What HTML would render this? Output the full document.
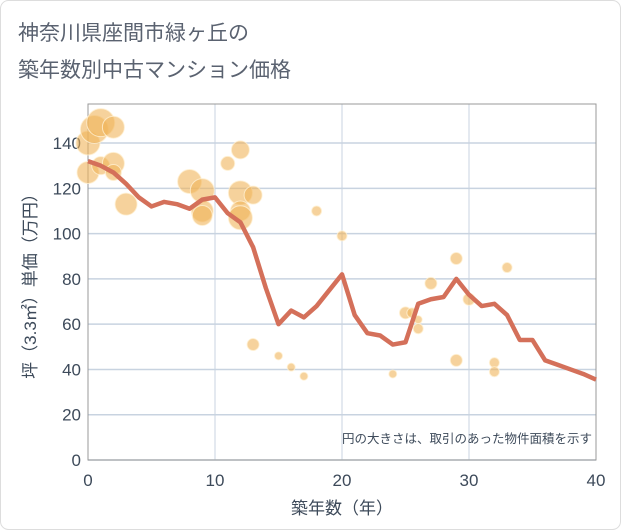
<!DOCTYPE html>
<html><head><meta charset="utf-8"><style>
body{margin:0;background:#fff;font-family:"Liberation Sans","Noto Sans CJK JP",sans-serif}
#wrap{position:relative;width:621px;height:530px;overflow:hidden}
</style></head><body>
<div id="wrap">
<svg id="chart" width="621" height="530"></svg>
</div>
<script>
const xTicks=[0,10,20,30,40];
const yTicks=[0,20,40,60,80,100,120,140];
const lineYears=[0,1,2,3,4,5,6,7,8,9,10,11,12,13,14,15,16,17,18,19,20,21,22,23,24,25,26,27,28,29,30,31,32,33,34,35,36,37,38,39,40];
const linePrices=[132,130,127,122,116,112,114,113,111,115,116,109,105,94,76,60,66,63,68,75,82,64,56,55,51,52,69,71,72,80,73,68,69,64,53,53,44,42,40,38,35.5];
const bubbleYears=[0,0,0.5,1,1,2,2,2,3,8,9,9,9,11,12,12,12,12,13,13,15,16,17,18,20,24,25,25.5,26,26,27,29,29,30,32,32,33];
const bubblePrices=[127,140,146,149,130,147,131,127,113,123,119,110,108,131,137,118,110,107,117,51,46,41,37,110,99,38,65,65,62,58,78,89,44,71,43,39,85];
const bubbleSizes=[11,12,14,14,9,11,11,8,11,12,12,11,10,7,9,12,10,12,9,6,4,4,4,5,5,4,6,5,4,5,6,6,6,6,5,5,5];
const NS="http://www.w3.org/2000/svg";
const svg=document.getElementById('chart');
const L=88,R=596,T=104,B=460;
const xs=v=>L+(v/40)*(R-L);
const ys=v=>B-v*2.264;
function el(t,a,p){const e=document.createElementNS(NS,t);for(const k in a)e.setAttribute(k,a[k]);(p||svg).appendChild(e);return e;}
const ob=el('rect',{x:0.5,y:0.5,width:620,height:529,rx:8,fill:'none',stroke:'#ddd','stroke-width':1});


// title
const t1=el('text',{x:18,y:40,'font-size':21,fill:'#5a6270'});t1.textContent='神奈川県座間市緑ヶ丘の';


const t2=el('text',{x:18,y:77,'font-size':21,fill:'#5a6270'});t2.textContent='築年数別中古マンション価格';


// grid
const g=el('g',{});


xTicks.forEach(v=>{const l=el('line',{x1:xs(v),x2:xs(v),y1:T,y2:B,stroke:'#c8d3e0','stroke-width':1},g);


const tx=el('text',{x:xs(v),y:B+26,'font-size':17,fill:'#3d4a5a','text-anchor':'middle'});tx.textContent=v;

});
yTicks.forEach(v=>{const l=el('line',{x1:L,x2:R,y1:ys(v),y2:ys(v),stroke:'#c8d3e0','stroke-width':1.5},g);


const tx=el('text',{x:L-7,y:ys(v)+6,'font-size':17,fill:'#3d4a5a','text-anchor':'end'});tx.textContent=v;

});
const fr=el('rect',{x:L,y:T,width:R-L,height:B-T,fill:'none',stroke:'#999','stroke-width':1});


// bubbles
bubbleYears.forEach((v,i)=>{const c=el('circle',{cx:xs(v),cy:ys(bubblePrices[i]),r:bubbleSizes[i],fill:'rgba(240,180,90,0.6)',stroke:'rgba(255,240,210,0.8)','stroke-width':1});

});
// line
const pl=el('polyline',{points:lineYears.map((v,i)=>xs(v)+','+ys(linePrices[i])).join(' '),fill:'none',stroke:'#d4705a','stroke-width':4.5,'stroke-linejoin':'round'});


// note
const n=el('text',{x:R-4,y:443,'font-size':12.5,fill:'#3d4a5a','text-anchor':'end'});n.textContent='円の大きさは、取引のあった物件面積を示す';


// axis titles
const xt=el('text',{x:(L+R)/2,y:514,'font-size':17,fill:'#3d4a5a','text-anchor':'middle'});xt.textContent='築年数（年）';


const yt=el('text',{x:0,y:0,'font-size':17,fill:'#3d4a5a','text-anchor':'middle',transform:'translate(36,'+((T+B)/2)+') rotate(-90)'});yt.textContent='坪（3.3㎡）単価（万円）';


</script>
</body></html>
